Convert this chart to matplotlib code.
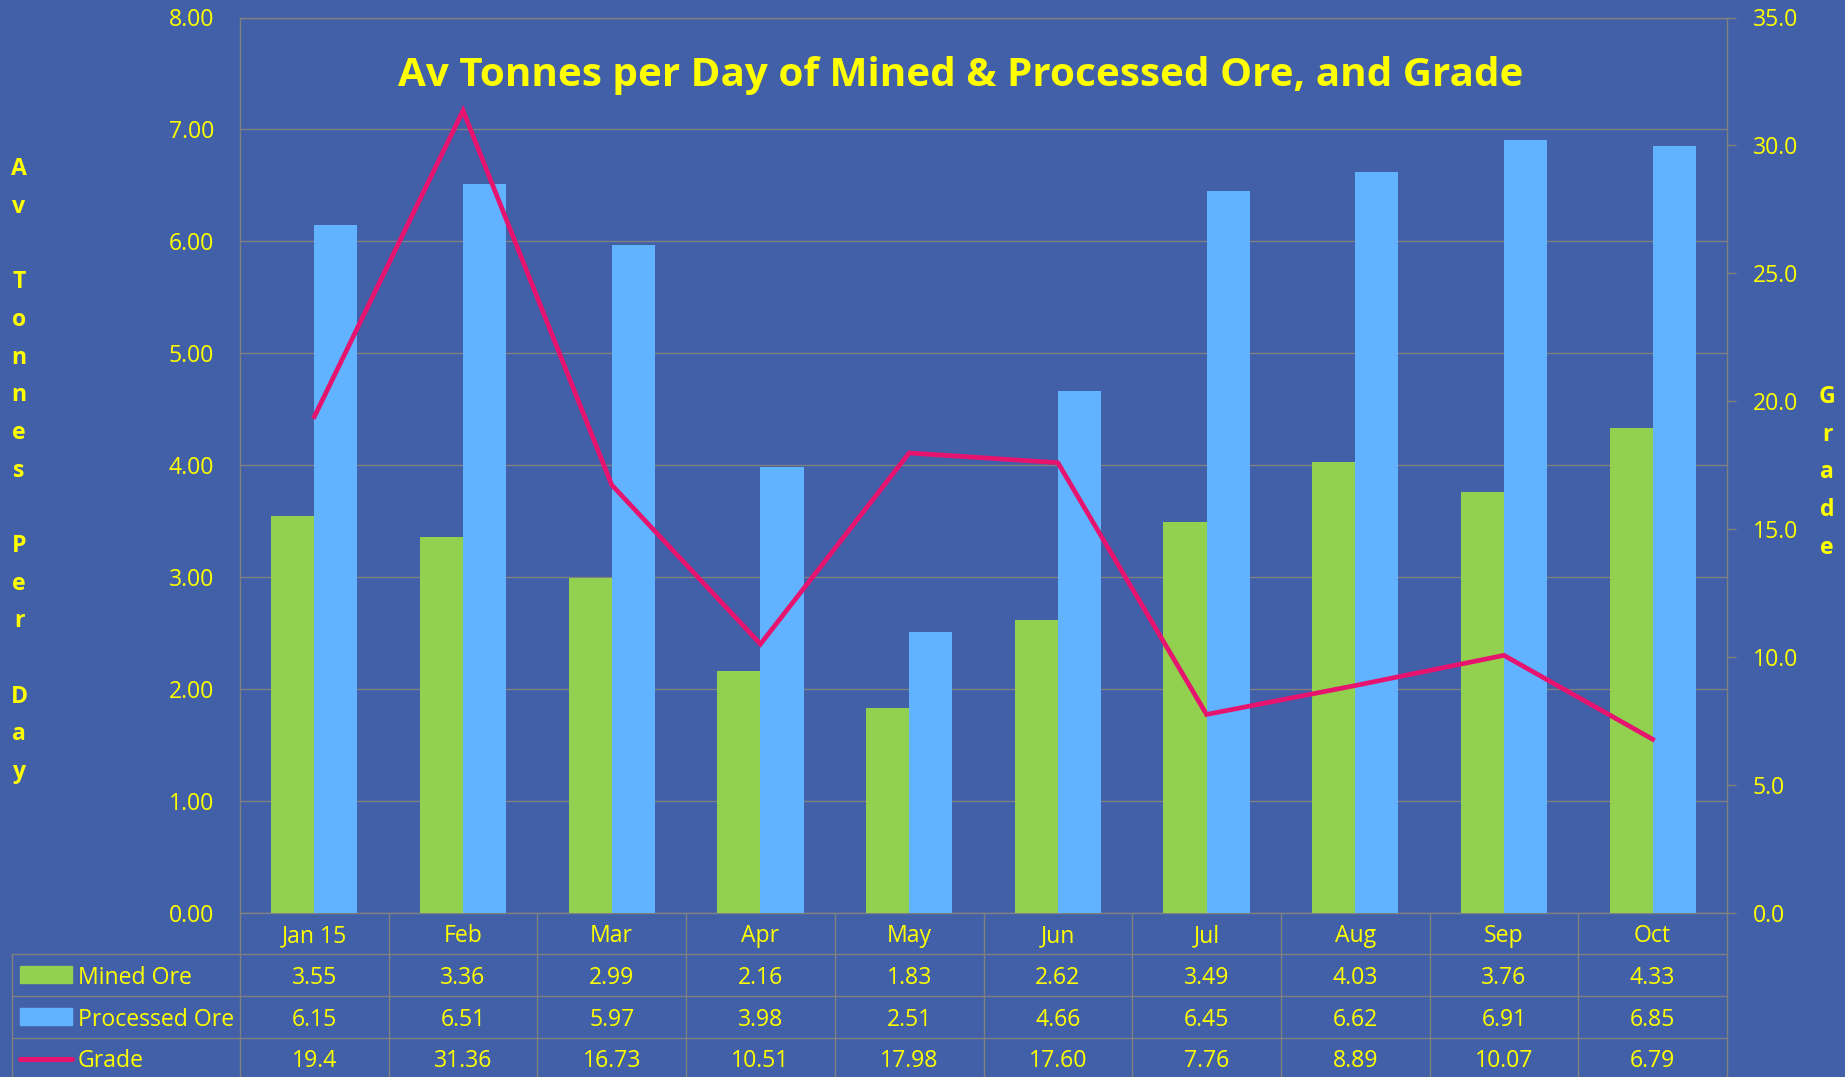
import numpy as np
import matplotlib
matplotlib.use("Agg")
import matplotlib.pyplot as plt
import matplotlib.transforms as mtransforms
from matplotlib.patches import Rectangle
from matplotlib.lines import Line2D

# ---------------- data ----------------
months = ["Jan 15", "Feb", "Mar", "Apr", "May", "Jun", "Jul", "Aug", "Sep", "Oct"]
mined = [3.55, 3.36, 2.99, 2.16, 1.83, 2.62, 3.49, 4.03, 3.76, 4.33]
processed = [6.15, 6.51, 5.97, 3.98, 2.51, 4.66, 6.45, 6.62, 6.91, 6.85]
grade = [19.4, 31.36, 16.73, 10.51, 17.98, 17.60, 7.76, 8.89, 10.07, 6.79]
grade_text = ["19.4", "31.36", "16.73", "10.51", "17.98", "17.60", "7.76", "8.89", "10.07", "6.79"]
series_names = ["Mined Ore", "Processed Ore", "Grade"]
left_ticks = [0, 1, 2, 3, 4, 5, 6, 7, 8]
right_ticks = [0, 5, 10, 15, 20, 25, 30, 35]
title = "Av Tonnes per Day of Mined & Processed Ore, and Grade"
left_label = "Av Tonnes Per Day"
right_label = "Grade"

# ---------------- style ----------------
BG = "#4260A8"
GREEN = "#92D050"
BLUE = "#61B3FF"
PINK = "#E6146E"
YELLOW = "#FFFF00"
GRAY = "#808080"
plt.rcParams["font.family"] = ["Open Sans", "DejaVu Sans"]
FS = 16.6

W, H = 1845, 1077
fig = plt.figure(figsize=(W / 100, H / 100), dpi=100)
fig.patch.set_facecolor(BG)

L, R, T, B = 240, 1727, 17.5, 913
ax = fig.add_axes([L / W, 1 - B / H, (R - L) / W, (B - T) / H])
ax.set_facecolor(BG)
x = np.arange(len(months))
bw = 0.29
ax.bar(x - bw / 2, mined, bw, color=GREEN, zorder=3)
ax.bar(x + bw / 2, processed, bw, color=BLUE, zorder=3)
ax.set_xlim(-0.5, len(months) - 0.5)
ax.set_ylim(0, 8)
ax.set_yticks(left_ticks)
ax.set_yticklabels([f"{v:.2f}" for v in left_ticks])
ax.yaxis.grid(True, color=GRAY, lw=1.0)
ax.set_axisbelow(True)
ax.tick_params(axis="y", length=0, pad=18.5, labelsize=FS, labelcolor=YELLOW)
ax.set_xticks([])
for s in ["left", "bottom", "top"]:
    ax.spines[s].set_color(GRAY)
    ax.spines[s].set_linewidth(1.0)
ax.spines["right"].set_visible(False)

ax2 = ax.twinx()
ax2.plot(x, grade, color=PINK, lw=3.4, zorder=5, solid_joinstyle="miter")
ax2.set_ylim(0, 35)
ax2.set_yticks(right_ticks)
ax2.set_yticklabels([f"{v:.1f}" for v in right_ticks])
ax2.tick_params(axis="y", length=6.5, width=1.0, color=GRAY, pad=12,
                labelsize=FS, labelcolor=YELLOW)
for s in ["left", "bottom", "top"]:
    ax2.spines[s].set_visible(False)
ax2.spines["right"].set_color(GRAY)
ax2.spines["right"].set_linewidth(1.0)

# overlay in pixel coordinates
ov = fig.add_axes([0, 0, 1, 1])
ov.set_xlim(0, W)
ov.set_ylim(H, 0)
ov.axis("off")
ov.patch.set_visible(False)
tr = mtransforms.blended_transform_factory(ax.transData, ov.transData)

# title, fitted to width
t = ov.text(961, 86, title, ha="center", va="baseline", color=YELLOW,
            fontsize=30, fontweight="bold")
fig.canvas.draw()
wpx = t.get_window_extent(fig.canvas.get_renderer()).width
t.set_fontsize(30 * 1126 / wpx)

# stacked axis labels
for i, ch in enumerate(left_label):
    ov.text(19, 175 + i * 37.7, ch, ha="center", va="baseline", color=YELLOW,
            fontsize=FS, fontweight="bold")
for i, ch in enumerate(right_label):
    ov.text(1827, 403 + i * 37.7, ch, ha="center", va="baseline", color=YELLOW,
            fontsize=FS, fontweight="bold")

# data table
row_edges = [912.5, 954, 996, 1037.7, 1079]
row_cent = [(row_edges[i] + row_edges[i + 1]) / 2 + 3 for i in range(4)]
TL = 12
for yy in row_edges[1:4]:
    ov.add_line(Line2D([TL, R], [yy, yy], color=GRAY, lw=1.0))
ov.add_line(Line2D([TL, TL], [row_edges[1], H], color=GRAY, lw=1.0))
for k in range(len(months) + 1):
    ov.add_line(Line2D([k - 0.5, k - 0.5], [row_edges[0], H], color=GRAY, lw=1.0,
                       transform=tr))

for i, m in enumerate(months):
    ov.text(i, row_cent[0], m, transform=tr, ha="center", va="center",
            color=YELLOW, fontsize=FS)
    ov.text(i, row_cent[1], f"{mined[i]:.2f}", transform=tr, ha="center",
            va="center", color=YELLOW, fontsize=FS)
    ov.text(i, row_cent[2], f"{processed[i]:.2f}", transform=tr, ha="center",
            va="center", color=YELLOW, fontsize=FS)
    ov.text(i, row_cent[3], grade_text[i], transform=tr, ha="center",
            va="center", color=YELLOW, fontsize=FS)

# legend keys
ov.add_patch(Rectangle((20, 966), 52, 17, color=GREEN))
ov.add_patch(Rectangle((20, 1008), 52, 17, color=BLUE))
ov.add_line(Line2D([20, 72], [row_cent[3] - 2, row_cent[3] - 2], color=PINK, lw=3.6,
                   solid_capstyle="round"))
for j, name in enumerate(series_names):
    ov.text(78, row_cent[j + 1], name, ha="left", va="center", color=YELLOW,
            fontsize=FS)

fig.savefig("out.png", dpi=100, facecolor=BG)
